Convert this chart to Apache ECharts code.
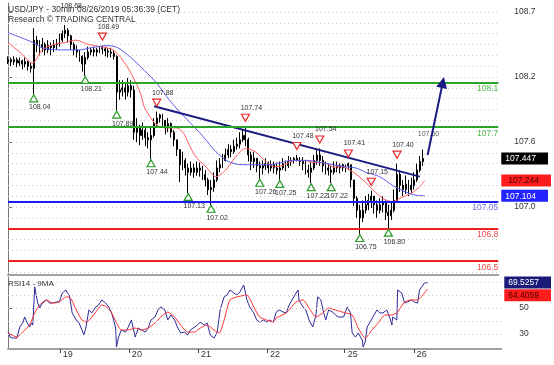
<!DOCTYPE html>
<html><head><meta charset="utf-8">
<script src="https://cdn.jsdelivr.net/npm/echarts@6/dist/echarts.min.js"></script>
<style>html,body{margin:0;padding:0;background:#fff}#c{width:554px;height:365px}</style>
</head><body><div id="c"></div>
<script>
// ---- hourly OHLC bars (x = hour index) ----
const opens = [108.34,108.36,108.34,108.36,108.33,108.35,108.32,108.34,108.30,108.28,
108.54,108.50,108.47,108.50,108.45,108.49,108.47,108.50,108.51,108.54,
108.60,108.63,108.58,108.50,108.45,108.43,108.39,108.32,108.38,108.43,
108.45,108.43,108.45,108.47,108.46,108.44,108.43,108.42,108.39,108.06,
108.08,108.10,108.06,108.12,108.08,107.69,107.73,107.66,107.71,107.64,
107.62,107.66,107.77,107.82,107.85,107.80,107.73,107.77,107.69,107.62,
107.53,107.39,107.43,107.36,107.32,107.36,107.32,107.36,107.34,107.30,
107.25,107.16,107.18,107.25,107.36,107.39,107.43,107.48,107.53,107.51,
107.56,107.58,107.62,107.66,107.62,107.48,107.42,107.45,107.38,107.36,
107.38,107.40,107.36,107.39,107.36,107.34,107.36,107.40,107.38,107.42,
107.43,107.45,107.43,107.42,107.40,107.34,107.32,107.36,107.43,107.48,
107.43,107.38,107.36,107.34,107.32,107.36,107.38,107.36,107.39,107.38,
107.39,107.25,107.08,106.97,106.90,106.97,107.02,107.06,107.10,107.02,
106.97,107.02,107.05,106.95,106.92,106.97,107.06,107.30,107.20,107.16,
107.21,107.16,107.20,107.25,107.34,107.42];
const closes = [108.36,108.34,108.36,108.33,108.35,108.32,108.34,108.30,108.28,108.54,
108.50,108.47,108.50,108.45,108.49,108.47,108.50,108.51,108.54,108.60,
108.63,108.58,108.50,108.45,108.43,108.39,108.32,108.38,108.43,108.45,
108.43,108.45,108.47,108.46,108.44,108.43,108.42,108.39,108.06,108.08,
108.10,108.06,108.12,108.08,107.69,107.73,107.66,107.71,107.64,107.62,
107.66,107.77,107.82,107.85,107.80,107.73,107.77,107.69,107.62,107.53,
107.39,107.43,107.36,107.32,107.36,107.32,107.36,107.34,107.30,107.25,
107.16,107.18,107.25,107.36,107.39,107.43,107.48,107.53,107.51,107.56,
107.58,107.62,107.66,107.62,107.48,107.42,107.45,107.38,107.36,107.38,
107.40,107.36,107.39,107.36,107.34,107.36,107.40,107.38,107.42,107.43,
107.45,107.43,107.42,107.40,107.34,107.32,107.36,107.43,107.48,107.43,
107.38,107.36,107.34,107.32,107.36,107.38,107.36,107.39,107.38,107.40,
107.25,107.08,106.97,106.90,106.97,107.02,107.06,107.10,107.02,106.97,
107.02,107.05,106.95,106.92,106.97,107.06,107.30,107.20,107.16,107.21,
107.16,107.20,107.25,107.34,107.42,107.447];
const lows = [108.32,108.30,108.31,108.29,108.30,108.27,108.29,108.26,108.24,108.04,
108.43,108.40,108.43,108.40,108.42,108.40,108.43,108.45,108.48,108.52,
108.56,108.52,108.45,108.40,108.38,108.34,108.25,108.21,108.36,108.40,
108.39,108.39,108.42,108.41,108.39,108.38,108.38,108.36,107.89,107.99,
108.02,107.99,108.02,108.01,107.62,107.60,107.57,107.62,107.56,107.54,
107.44,107.64,107.74,107.78,107.75,107.67,107.69,107.64,107.56,107.47,
107.23,107.34,107.29,107.13,107.29,107.27,107.29,107.28,107.25,107.19,
107.11,107.02,107.14,107.23,107.32,107.36,107.42,107.45,107.46,107.49,
107.53,107.54,107.60,107.56,107.42,107.34,107.36,107.32,107.26,107.30,
107.34,107.31,107.33,107.31,107.30,107.25,107.34,107.33,107.36,107.38,
107.40,107.42,107.38,107.34,107.30,107.27,107.22,107.34,107.39,107.38,
107.32,107.30,107.29,107.22,107.30,107.32,107.31,107.33,107.32,107.34,
107.18,107.01,106.90,106.75,106.86,106.94,106.97,106.99,106.94,106.90,
106.94,106.95,106.88,106.80,106.88,106.95,107.04,107.14,107.10,107.12,
107.10,107.13,107.16,107.23,107.32,107.38];
const highs = [108.39,108.38,108.39,108.38,108.38,108.36,108.38,108.35,108.33,108.65,
108.58,108.54,108.56,108.52,108.54,108.52,108.54,108.55,108.60,108.63,
108.68,108.65,108.59,108.52,108.49,108.45,108.40,108.43,108.48,108.47,
108.48,108.47,108.48,108.49,108.48,108.47,108.47,108.45,108.40,108.17,
108.17,108.15,108.19,108.17,108.12,107.82,107.76,107.78,107.73,107.69,
107.73,107.82,107.88,107.86,107.86,107.80,107.82,107.78,107.71,107.62,
107.53,107.51,107.45,107.40,107.42,107.40,107.42,107.41,107.38,107.34,
107.27,107.25,107.32,107.43,107.45,107.49,107.54,107.58,107.57,107.62,
107.64,107.69,107.71,107.74,107.64,107.51,107.51,107.45,107.42,107.43,
107.45,107.42,107.43,107.42,107.41,107.42,107.45,107.43,107.47,107.46,
107.46,107.48,107.46,107.46,107.43,107.39,107.42,107.48,107.53,107.54,
107.47,107.42,107.40,107.38,107.42,107.42,107.40,107.40,107.39,107.41,
107.39,107.25,107.10,107.02,107.06,107.10,107.12,107.15,107.10,107.06,
107.08,107.10,107.06,107.02,107.05,107.16,107.40,107.34,107.25,107.29,
107.25,107.27,107.32,107.40,107.47,107.53];

// ---- moving averages on price ----
const maRedX = [0,4.1,8.6,12,16.1,20.2,23.7,28.1,32.6,36.7,39.4,42.9,46.3,47.7,51.1,53.1,56.6,59,61.4,63.4,65.8,69.2,72.7,76.1,79.5,83,86.4,89.8,93.2,96.7,100.1,103.5,107,110.4,113.8,117.2,120.7,124.1,127.5,131,134.4,137.8,141.2,143.6,145.7];
const maRedY = [108.52,108.43,108.33,108.45,108.50,108.52,108.54,108.50,108.48,108.45,108.38,108.24,108.05,107.92,107.78,107.74,107.73,107.73,107.68,107.57,107.46,107.37,107.28,107.34,107.46,107.54,107.51,107.43,107.37,107.39,107.43,107.43,107.41,107.41,107.37,107.37,107.32,107.25,107.16,107.08,107.05,107.09,107.13,107.18,107.244];
const maBlueX = [0,8.6,12,17.8,24.7,29.1,35,38.4,42.9,47.7,52.1,56.6,61.4,65.8,68.2,72.7,77.1,81.9,86.4,90.8,95.6,99.1,104.6,109.4,113.8,118.3,121.7,125.1,129.9,134.4,138.8,142.3,145.7];
const maBlueY = [108.61,108.52,108.47,108.45,108.45,108.47,108.49,108.47,108.38,108.26,108.14,107.98,107.84,107.72,107.65,107.51,107.42,107.39,107.39,107.39,107.41,107.43,107.43,107.41,107.39,107.37,107.36,107.32,107.28,107.20,107.14,107.11,107.104];

// ---- RSI14 and its 9MA ----
const rsiX = [0,0.7,1.7,3.1,4.1,5.1,5.8,6.5,7.5,8.2,8.6,9.3,9.9,10.3,11,12,13.4,14.4,15.4,16.8,17.8,18.9,20.2,20.6,21.3,22.3,23.7,24.7,25.7,26.4,27.1,28.1,29.1,30.5,31.5,32.6,33.9,35,36,36.7,37.4,37.7,38.4,39.4,40.8,41.8,42.9,43.5,44.2,44.6,45.3,46.3,47.7,48.7,49.7,51.1,52.1,53.1,54.5,55.5,56.6,57.9,59,60,61.4,62.4,63.4,65.8,66.8,68.2,69.2,70.3,71.6,72.7,73.7,75.1,76.1,77.1,78.5,79.5,80.6,81.9,82.3,83,84,85.4,86.4,87.4,88.8,89.8,90.8,92.2,93.2,94.3,95.6,96.7,97.7,99.1,100.1,100.8,101.1,102.5,103.5,104.6,105.9,107,107.6,108,108.7,109.7,110.4,111.4,112.8,113.8,114.8,116.6,117.9,119,119.6,120.7,121.7,123.1,123.4,124.1,124.8,125.8,126.8,128.2,129.2,130.3,131.6,132.7,133.4,133.7,135.1,135.4,136.8,137.8,138.8,140.2,141.2,142.3,143,144.7,145.7];
const rsiV = [31.5,27.7,26.9,26.9,35.4,38.5,43.1,39.2,35.4,38.5,36.9,66.2,65.4,53.8,50,53.8,56.2,53.8,53.8,54.6,54.6,61.5,63.8,61.5,60,46.2,40.8,38.5,33.1,29.2,35.4,48.5,46.2,50.8,52.3,56.2,53.8,50.8,46.2,40.8,34.6,20,27.7,33.1,31.5,35.4,40.8,34.6,27.7,29.2,34.6,33.1,31.5,34.6,40.8,43.1,48.5,50.8,48.5,40.8,44.6,40.8,34.6,30.8,31.5,29.2,33.1,36.9,39.2,36.9,38.5,29.2,26.9,31.5,48.5,58.5,60,63.8,61.5,60,62.3,67.7,63.8,56.2,50.8,46.2,40.8,39.2,40.8,39.2,40.8,39.2,46.9,48.5,46.9,46.2,52.3,57.7,61.5,63.8,56.2,50.8,48.5,40.8,35.4,44.6,58.5,60,56.2,46.2,40.8,48.5,46.9,44.6,43.1,43.1,50.8,46.2,30.8,27.7,30.8,25.4,20,23.8,35.4,39.2,43.1,48.5,46.2,46.2,48.5,42.3,36.9,43.1,40.8,63.8,61.5,53.8,54.6,56.2,54.6,53.8,63.8,69.2,69.5257];
const rsiMaX = [0,3.1,5.1,7.5,9.3,11,13.4,15.4,17.8,20.2,21.3,23.7,25.7,27.4,30.5,32.6,34.3,36,37.7,39.4,41.8,44.2,46.3,48.7,51.1,53.1,55.5,57.9,60,62.4,64.8,66.8,69.2,71.6,73.4,75.1,77.1,79.5,83,85.4,87.4,89.8,92.2,93.2,96.7,100.1,102.5,104.6,107,109.4,111.4,113.8,117.2,119.6,121.7,124.1,126.5,128.6,131,133.4,135.4,137.8,140.2,142.3,145.7];
const rsiMaV = [30.8,27.7,31.5,36.9,46.2,52.3,56.2,53.8,54.6,58.5,58.5,48.5,40.8,39.2,46.9,52.3,50.8,46.2,38.5,33.1,33.1,34.6,33.1,34.6,38.5,43.1,46.9,43.1,36.9,31.5,31.5,34.6,36.9,33.1,30.8,40.8,56.2,58.5,60,50.8,43.1,40.8,39.2,42.3,46.2,54.6,56.2,50,43.1,46.2,50,48.5,46.2,44.6,34.6,26.9,33.1,38.5,44.6,44.6,46.9,54.6,56.2,56.2,64.4059];

// ---- annotations ----
const lowIdx = [9,27,38,50,63,71,88,95,106,113,123,133];
const highIdx = [20,33,52,83,101,109,119,127,136];
const levelValues = [108.15,107.74,107.05,106.8,106.5];
const levelLabels = ['108.1','107.7','107.05','106.8','106.5'];
const levelColors = ['#2aa52a','#2aa52a','#1c1cf0','#f02020','#f02020'];
const levelTextColors = ['#4cb84c','#4cb84c','#6b6bf0','#f04848','#f04848'];
const trendX = [51.1,144];
const trendY = [107.93,107.28];
const arrowX = [146.7,152.0];
const arrowY = [107.48,108.15];
const targetX = [147];
const targetY = [107.60];

// ---- axes ----
const dayTicks = [18,42,66,90,117,141];
const dayLabels = ['19','20','21','22','25','26'];
const yTickValues = [108.8,108.2,107.6,107.0];
const yTickLabels = ['108.7','108.2','107.6','107.0'];
const rsiTicks = [50,30];
const rsiGrid = [70,60,50,40,30];

const FONT = 'Liberation Sans, Arial, sans-serif';
const X_MAX = 171.4, P_MIN = 106.372, P_MAX = 108.883, R_MIN = 18.5, R_MAX = 73.8;
const gridLevels = [];
for (let k = 1064; k <= 1088; k++) gridLevels.push(k / 10);

const pairs = (xs, ys) => xs.map((x, i) => [x, ys[i]]);
const candles = opens.map((o, i) => [i, o, closes[i], lows[i], highs[i]]);
const lastClose = closes[closes.length - 1];
const lastRed = maRedY[maRedY.length - 1];
const lastBlue = maBlueY[maBlueY.length - 1];
const lastRsi = rsiV[rsiV.length - 1];
const lastRsiMa = rsiMaV[rsiMaV.length - 1];
const near = (a, b) => Math.abs(a - b) < 1e-9;

function boxAxis(gridIndex, min, max, value, text, style, prefix) {
  return {gridIndex: gridIndex, type: 'value', position: 'right', min: min, max: max,
    axisLine: {show: false}, axisTick: {show: false}, splitLine: {show: false},
    axisLabel: {customValues: [value], margin: 3, fontFamily: FONT,
      formatter: () => prefix + '{s|' + text + '}',
      rich: {s: Object.assign({padding: [2, 12, 1, 4], fontSize: 8.5, lineHeight: 11, fontFamily: FONT}, style)}}};
}

const chart = echarts.init(document.getElementById('c'), null, {renderer: 'canvas'});
chart.setOption({
  animation: false,
  backgroundColor: '#fff',
  textStyle: {fontFamily: FONT},
  title: [
    {text: 'USD/JPY - 30min 08/26/2019 05:36:39 (CET)', subtext: 'Research © TRADING CENTRAL',
     left: 8, top: 5, padding: 0, itemGap: 1,
     textStyle: {fontSize: 8.5, fontWeight: 'normal', color: '#333', fontFamily: FONT},
     subtextStyle: {fontSize: 8.5, color: '#333', fontFamily: FONT}},
    {text: 'RSI14 - 9MA', left: 8, top: 280, padding: 0,
     textStyle: {fontSize: 8, fontWeight: 'normal', color: '#333', fontFamily: FONT}}
  ],
  grid: [
    {left: 8, right: 46, top: 3, height: 272},
    {left: 8, right: 46, top: 277, height: 72}
  ],
  xAxis: [
    {gridIndex: 0, type: 'value', min: 0, max: X_MAX,
     axisLine: {show: true, onZero: false, lineStyle: {color: '#a0a0a0', width: 2}},
     axisTick: {show: false}, axisLabel: {show: false}, splitLine: {show: false}},
    {gridIndex: 1, type: 'value', min: 0, max: X_MAX,
     axisLine: {show: true, onZero: false, lineStyle: {color: '#a0a0a0', width: 2}},
     axisTick: {show: true, customValues: dayTicks, length: 4, lineStyle: {color: '#444'}},
     axisLabel: {show: true, customValues: dayTicks, formatter: v => dayLabels[dayTicks.indexOf(v)],
       align: 'left', padding: [0, 0, 0, 3], margin: 1, fontSize: 9, color: '#333', fontFamily: FONT},
     splitLine: {show: false}}
  ],
  yAxis: [
    {gridIndex: 0, type: 'value', position: 'right', min: P_MIN, max: P_MAX,
     axisLine: {show: true, lineStyle: {color: '#777'}},
     axisTick: {show: true, customValues: yTickValues, length: 4, lineStyle: {color: '#777'}},
     axisLabel: {customValues: yTickValues, formatter: v => yTickLabels[yTickValues.findIndex(t => near(t, v))],
       margin: 16, fontSize: 8.5, color: '#333', fontFamily: FONT},
     splitLine: {show: false}},
    boxAxis(0, P_MIN, P_MAX, lastClose, lastClose.toFixed(3), {backgroundColor: '#000', color: '#fff'}, ''),
    boxAxis(0, P_MIN, P_MAX, lastRed, lastRed.toFixed(3), {backgroundColor: '#ff1c1c', color: '#400', padding: [2, 12, 1, 7]}, ''),
    boxAxis(0, P_MIN, P_MAX, lastBlue, lastBlue.toFixed(3), {backgroundColor: '#2323ff', color: '#fff'}, ''),
    {gridIndex: 1, type: 'value', position: 'right', min: R_MIN, max: R_MAX,
     axisLine: {show: true, lineStyle: {color: '#777'}},
     axisTick: {show: true, customValues: rsiTicks, length: 4, lineStyle: {color: '#777'}},
     axisLabel: {customValues: rsiTicks, margin: 18, fontSize: 8.5, color: '#333', fontFamily: FONT},
     splitLine: {show: false}},
    boxAxis(1, R_MIN, R_MAX, lastRsi, lastRsi.toFixed(4), {backgroundColor: '#1a1a78', color: '#fff'}, ''),
    boxAxis(1, R_MIN, R_MAX, lastRsiMa, lastRsiMa.toFixed(4), {backgroundColor: '#ff1c1c', color: '#400'}, '\n')
  ],
  series: [
    {type: 'candlestick', name: 'price', xAxisIndex: 0, yAxisIndex: 0, data: candles,
     encode: {x: 0, y: [1, 2, 3, 4]}, barWidth: 1.4, silent: true,
     itemStyle: {color: '#000', color0: '#000', borderColor: '#000', borderColor0: '#000', borderWidth: 1},
     markLine: {silent: true, symbol: ['none', 'none'], label: {show: false}, z: 1,
       lineStyle: {color: '#d6cccc', type: [1, 3], width: 1},
       data: gridLevels.map(v => ({yAxis: v}))}},
    {type: 'line', name: 'levels', xAxisIndex: 0, yAxisIndex: 0, data: [], silent: true,
     markLine: {silent: true, symbol: ['none', 'none'],
       data: levelValues.map((v, i) => ({yAxis: v,
         lineStyle: {color: levelColors[i], width: 2, type: 'solid'},
         label: {show: true, position: 'insideEndBottom', formatter: levelLabels[i], distance: [0, 2],
           color: levelTextColors[i], fontSize: 8.5, fontFamily: FONT}}))}},
    {type: 'line', name: 'maRed', xAxisIndex: 0, yAxisIndex: 0, data: pairs(maRedX, maRedY),
     smooth: 0.3, showSymbol: false, symbol: 'none', silent: true,
     lineStyle: {color: '#ff5a5a', width: 1}},
    {type: 'line', name: 'maBlue', xAxisIndex: 0, yAxisIndex: 0, data: pairs(maBlueX, maBlueY),
     smooth: 0.3, showSymbol: false, symbol: 'none', silent: true,
     lineStyle: {color: '#5a5aee', width: 1}},
    {type: 'line', name: 'trend', xAxisIndex: 0, yAxisIndex: 0, data: pairs(trendX, trendY),
     showSymbol: false, symbol: 'none', silent: true, lineStyle: {color: '#1a1a80', width: 2},
     markLine: {silent: true, symbol: ['none', 'triangle'], symbolSize: 11, label: {show: false},
       lineStyle: {color: '#1a1a80', width: 2, type: 'solid'},
       data: [[{coord: [arrowX[0], arrowY[0]]}, {coord: [arrowX[1], arrowY[1]]}]]}},
    {type: 'scatter', name: 'lowMarks', xAxisIndex: 0, yAxisIndex: 0, silent: true, z: 6,
     data: lowIdx.map(i => [i, lows[i]]),
     symbol: 'path://M5,0 L10,9 L0,9 Z', symbolSize: [8, 7], symbolOffset: [0, 4],
     itemStyle: {color: '#fff', borderColor: '#2a9a2a', borderWidth: 1.2, opacity: 1},
     label: {show: true, position: 'inside', offset: [6, 9], formatter: p => p.value[1].toFixed(2),
       fontSize: 7, color: '#333', textBorderWidth: 0, fontFamily: FONT}},
    {type: 'scatter', name: 'highMarks', xAxisIndex: 0, yAxisIndex: 0, silent: true, z: 6,
     data: highIdx.map(i => i === 20
       ? {value: [i, highs[i]], itemStyle: {color: 'rgba(0,0,0,0)', borderColor: 'rgba(0,0,0,0)'}}
       : [i, highs[i]]),
     symbol: 'path://M0,0 L10,0 L5,9 Z', symbolSize: [8, 7], symbolOffset: [0, -9],
     itemStyle: {color: '#fff', borderColor: '#e82a2a', borderWidth: 1.2, opacity: 1},
     label: {show: true, position: 'inside', offset: [6, -10], formatter: p => p.value[1].toFixed(2),
       fontSize: 7, color: '#333', textBorderWidth: 0, fontFamily: FONT}},
    {type: 'scatter', name: 'target', xAxisIndex: 0, yAxisIndex: 0, silent: true, z: 4,
     data: pairs(targetX, targetY), symbolSize: 2,
     itemStyle: {color: 'rgba(0,0,0,0)'},
     label: {show: true, position: 'inside', offset: [0, -8], formatter: p => p.value[1].toFixed(2),
       fontSize: 7, color: '#333', textBorderWidth: 0, fontFamily: FONT}},
    {type: 'line', name: 'rsi', xAxisIndex: 1, yAxisIndex: 4, data: pairs(rsiX, rsiV),
     showSymbol: false, symbol: 'none', silent: true, lineStyle: {color: '#2b2b9c', width: 1},
     markLine: {silent: true, symbol: ['none', 'none'], label: {show: false},
       lineStyle: {color: '#d6cccc', type: [1, 3], width: 1},
       data: rsiGrid.map(v => ({yAxis: v}))}},
    {type: 'line', name: 'rsiMa', xAxisIndex: 1, yAxisIndex: 4, data: pairs(rsiMaX, rsiMaV),
     showSymbol: false, symbol: 'none', silent: true, smooth: 0.2, lineStyle: {color: '#ff3030', width: 1}}
  ]
});
</script>
</body></html>
